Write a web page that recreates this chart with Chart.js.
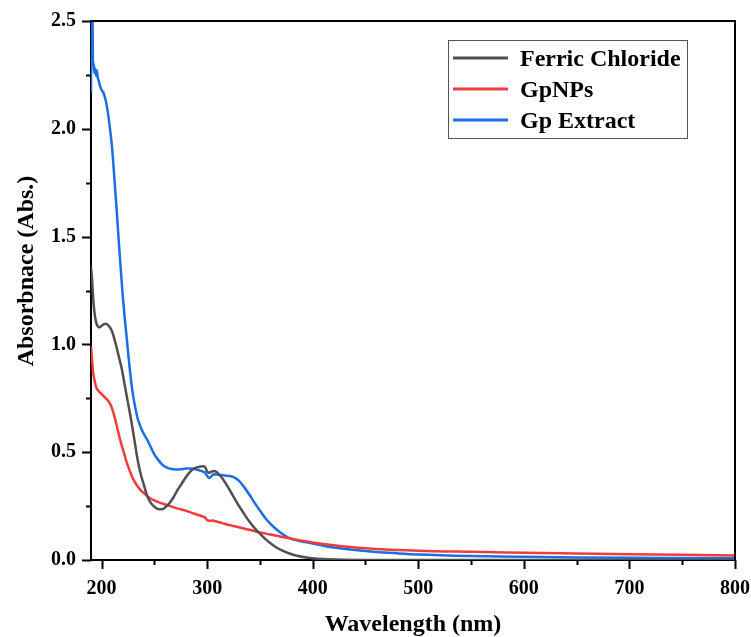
<!DOCTYPE html>
<html lang="en">
<head>
    <meta charset="UTF-8">
    <title>UV-Vis Absorbance</title>
    <script src="https://cdn.jsdelivr.net/npm/chart.js"></script>
    <style>
        body { margin: 0; background: #fff; }
        canvas { display: block; }
    </style>
</head>
<body>
    <canvas id="uvChart" width="751" height="637"></canvas>

    <script>
        // Ferric Chloride spectrum (nm / absorbance)
        const ferricNm  = [190, 191, 192, 193, 195, 198, 201, 204, 207, 210, 213, 216, 219, 222, 225, 228, 231, 234, 237, 240,
                           243, 246, 250, 254, 257, 260, 264, 268, 272, 276, 280, 284, 288, 292, 296, 298, 300, 302, 304, 307,
                           310, 314, 318, 322, 326, 330, 334, 338, 342, 346, 350, 355, 360, 366, 372, 378, 385, 394, 405, 415,
                           430, 450, 500, 600, 700, 800];
        const ferricAbs = [1.36, 1.30, 1.22, 1.16, 1.10, 1.08, 1.09, 1.096, 1.085, 1.06, 1.01, 0.95, 0.89, 0.81, 0.73, 0.65, 0.56, 0.47, 0.40, 0.35,
                           0.30, 0.27, 0.247, 0.236, 0.235, 0.243, 0.262, 0.29, 0.325, 0.355, 0.385, 0.41, 0.425, 0.432, 0.435, 0.432, 0.41, 0.405, 0.41, 0.413,
                           0.403, 0.382, 0.352, 0.32, 0.285, 0.252, 0.222, 0.192, 0.166, 0.142, 0.122, 0.098, 0.078, 0.057, 0.042, 0.030, 0.020, 0.012, 0.006, 0.003,
                           0.001, 0, 0, 0, 0, 0];

        // GpNPs spectrum
        const gpnpNm  = [190, 191, 192, 193.5, 195, 197, 200, 203, 206, 209, 212, 215, 218, 221, 224, 227, 230, 233, 236, 240,
                         245, 250, 255, 260, 265, 270, 275, 280, 285, 290, 295, 298, 300, 302, 305, 308, 315, 320, 330, 340,
                         350, 360, 370, 380, 390, 400, 420, 440, 460, 500, 550, 600, 650, 700, 750, 800];
        const gpnpAbs = [0.99, 0.93, 0.87, 0.83, 0.80, 0.785, 0.77, 0.755, 0.74, 0.715, 0.67, 0.61, 0.55, 0.50, 0.45, 0.41, 0.375, 0.35, 0.33, 0.31,
                         0.29, 0.276, 0.266, 0.258, 0.25, 0.242, 0.235, 0.228, 0.22, 0.211, 0.203, 0.197, 0.185, 0.182, 0.183, 0.18, 0.17, 0.163, 0.152, 0.14,
                         0.128, 0.118, 0.108, 0.099, 0.089, 0.081, 0.068, 0.058, 0.051, 0.043, 0.038, 0.034, 0.030, 0.027, 0.024, 0.021];

        // Gp Extract spectrum
        const extractNm  = [190, 190.6, 191.3, 191.8, 192.5, 193.2, 194, 194.8, 195.6, 196.5, 197.5, 198.5, 200, 202, 204, 206, 208, 210, 212, 214,
                            216, 218, 220, 222, 224, 226, 228, 230, 232, 234, 236, 238, 240, 243, 246, 250, 254, 258, 262, 266,
                            270, 275, 280, 285, 290, 295, 298, 300, 302, 304, 306, 310, 315, 320, 325, 330, 334, 338, 342, 346,
                            350, 355, 360, 365, 370, 375, 380, 385, 391, 400, 410, 420, 440, 460, 480, 500, 550, 600, 650, 700, 750, 800];
        const extractAbs = [2.17, 2.55, 2.6, 2.32, 2.30, 2.26, 2.28, 2.245, 2.27, 2.235, 2.22, 2.20, 2.18, 2.165, 2.13, 2.075, 2.0, 1.91, 1.78, 1.645,
                            1.50, 1.36, 1.23, 1.12, 1.02, 0.92, 0.83, 0.76, 0.705, 0.66, 0.63, 0.605, 0.585, 0.56, 0.53, 0.49, 0.462, 0.44, 0.428, 0.422,
                            0.42, 0.421, 0.424, 0.424, 0.42, 0.412, 0.405, 0.39, 0.38, 0.388, 0.398, 0.396, 0.393, 0.39, 0.384, 0.368, 0.345, 0.318, 0.288, 0.258,
                            0.23, 0.195, 0.168, 0.145, 0.125, 0.109, 0.098, 0.091, 0.085, 0.076, 0.066, 0.058, 0.046, 0.037, 0.031, 0.026, 0.019, 0.015, 0.012, 0.010, 0.009, 0.008];

        const seriesNames  = ['Ferric Chloride', 'GpNPs', 'Gp Extract'];
        const seriesColors = ['#505050', '#f03c3c', '#1b6fe3'];

        const serif = "'Liberation Serif', 'Times New Roman', serif";

        function toPoints(xs, ys) {
            return xs.map((v, i) => ({ x: v, y: ys[i] }));
        }

        // closes the box, draws the tick marks, titles and the boxed legend
        const decorPlugin = {
            id: 'decor',
            afterDraw(chart) {
                const ctx = chart.ctx;
                const a = chart.chartArea;
                const sx = chart.scales.x;
                const sy = chart.scales.y;
                ctx.save();

                ctx.strokeStyle = '#000';
                ctx.lineWidth = 2;
                ctx.beginPath();
                ctx.moveTo(a.left, a.top);
                ctx.lineTo(a.right, a.top);
                ctx.lineTo(a.right, a.bottom);
                ctx.stroke();

                // major ticks carry a label, minor ones are shorter
                ctx.beginPath();
                sx.ticks.forEach(t => {
                    const px = Math.round(sx.getPixelForValue(t.value)) + 0.5;
                    ctx.moveTo(px, a.bottom);
                    ctx.lineTo(px, a.bottom + (t.label ? 9 : 5));
                });
                sy.ticks.forEach(t => {
                    const py = Math.round(sy.getPixelForValue(t.value)) + 0.5;
                    ctx.moveTo(a.left, py);
                    ctx.lineTo(a.left - (t.label ? 9 : 5), py);
                });
                ctx.stroke();

                // axis titles
                ctx.fillStyle = '#000';
                ctx.font = 'bold 24px ' + serif;
                ctx.textAlign = 'center';
                ctx.textBaseline = 'alphabetic';
                ctx.fillText('Wavelength (nm)', (a.left + a.right) / 2, 631);
                ctx.save();
                ctx.translate(33, 271);
                ctx.rotate(-Math.PI / 2);
                ctx.fillText('Absorbnace (Abs.)', 0, 0);
                ctx.restore();

                // legend
                const boxW = 239, boxH = 98;
                const bx = a.right - 48 - boxW;
                const by = a.top + 19;
                ctx.strokeStyle = '#555';
                ctx.lineWidth = 1;
                ctx.strokeRect(bx + 0.5, by + 0.5, boxW, boxH);
                ctx.textAlign = 'left';
                chart.data.datasets.forEach((ds, i) => {
                    const ry = by + 18 + i * 31;
                    ctx.strokeStyle = ds.borderColor;
                    ctx.lineWidth = 3;
                    ctx.beginPath();
                    ctx.moveTo(bx + 5, ry);
                    ctx.lineTo(bx + 60, ry);
                    ctx.stroke();
                    ctx.fillText(ds.label, bx + 72, ry + 8);
                });

                ctx.restore();
            }
        };

        const allNm  = [ferricNm, gpnpNm, extractNm];
        const allAbs = [ferricAbs, gpnpAbs, extractAbs];

        // hidden tick marks only push the labels away from the axis
        const hiddenGrid = len => ({
            display: true,
            drawOnChartArea: false,
            drawTicks: true,
            tickLength: len,
            tickColor: 'rgba(0,0,0,0)'
        });

        new Chart(document.getElementById('uvChart'), {
            type: 'line',
            data: {
                datasets: seriesNames.map((name, i) => ({
                    label: name,
                    data: toPoints(allNm[i], allAbs[i]),
                    borderColor: seriesColors[i],
                    borderWidth: 2.5,
                    pointRadius: 0,
                    cubicInterpolationMode: 'monotone',
                    fill: false
                }))
            },
            options: {
                responsive: false,
                animation: false,
                devicePixelRatio: 1,
                layout: { padding: { left: 0, top: 21, right: 16, bottom: 0 } },
                plugins: {
                    legend: { display: false },
                    tooltip: { enabled: false }
                },
                scales: {
                    x: {
                        type: 'linear',
                        min: 190,
                        max: 800,
                        grid: hiddenGrid(17),
                        border: { display: true, color: '#000', width: 2 },
                        ticks: {
                            stepSize: 50,
                            includeBounds: false,
                            autoSkip: false,
                            maxRotation: 0,
                            padding: 0,
                            color: '#000',
                            font: { family: serif, size: 20, weight: 'bold' },
                            callback: v => (v % 100 === 0 ? String(v) : '')
                        },
                        afterFit: scale => { scale.height = 77; }
                    },
                    y: {
                        min: 0,
                        max: 2.5,
                        grid: hiddenGrid(15),
                        border: { display: true, color: '#000', width: 2 },
                        ticks: {
                            stepSize: 0.25,
                            autoSkip: false,
                            padding: 0,
                            color: '#000',
                            font: { family: serif, size: 20, weight: 'bold' },
                            callback: v => {
                                const half = v * 2;
                                return Math.abs(half - Math.round(half)) < 1e-6 ? v.toFixed(1) : '';
                            }
                        },
                        afterFit: scale => { scale.width = 91; }
                    }
                }
            },
            plugins: [decorPlugin]
        });
    </script>
</body>
</html>
